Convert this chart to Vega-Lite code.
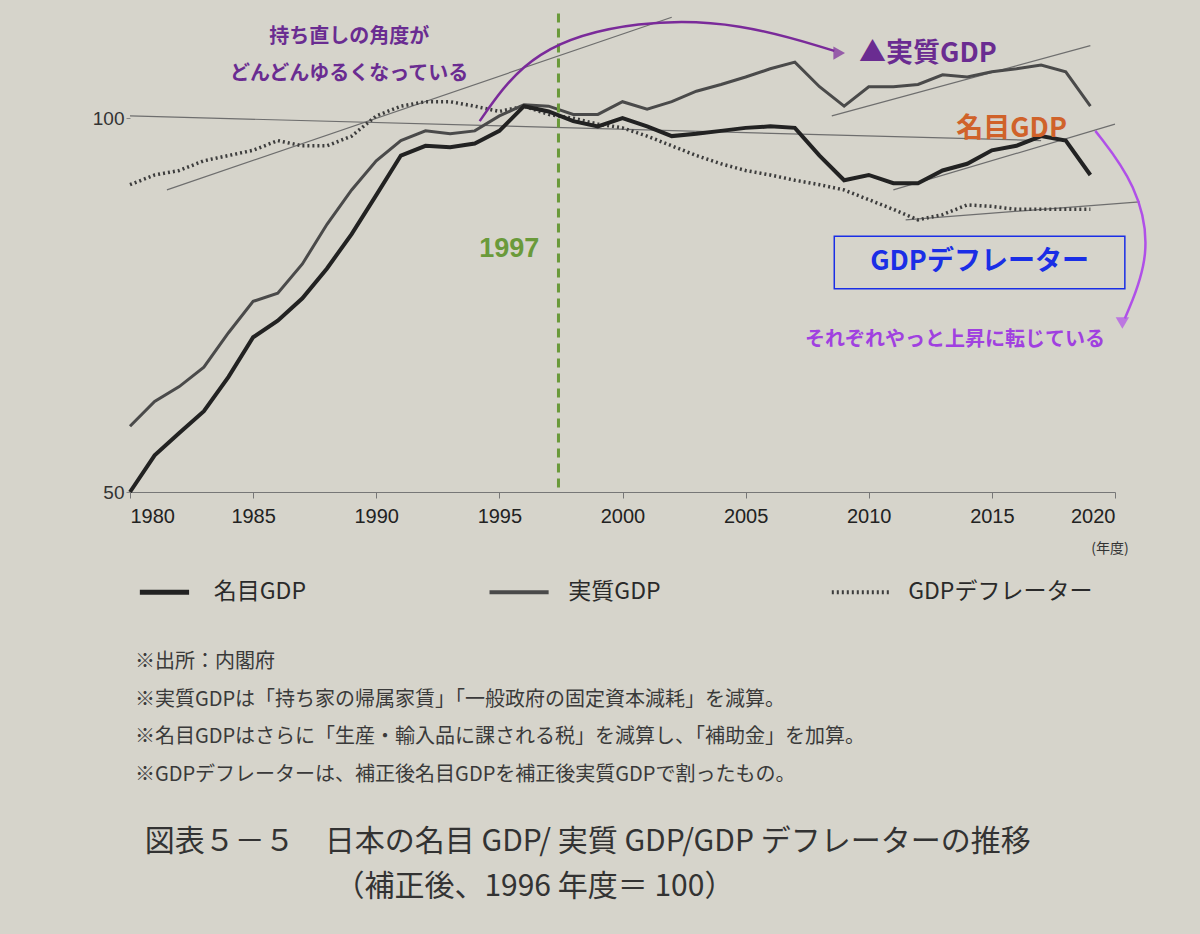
{
  "$schema": "https://vega.github.io/schema/vega-lite/v6.json",
  "width": 985,
  "height": 486,
  "autosize": "none",
  "padding": {"left": 130, "top": 6, "right": 85, "bottom": 442},
  "background": "#d6d4cb",
  "config": {"view": {"stroke": null}, "font": "Noto Sans CJK JP"},
  "datasets": {
    "gdp": [
      {"year":1980,"s":"名目GDP","v":50},{"year":1981,"s":"名目GDP","v":54.9},{"year":1982,"s":"名目GDP","v":57.9},{"year":1983,"s":"名目GDP","v":60.8},{"year":1984,"s":"名目GDP","v":65.4},{"year":1985,"s":"名目GDP","v":70.7},{"year":1986,"s":"名目GDP","v":72.9},{"year":1987,"s":"名目GDP","v":75.9},{"year":1988,"s":"名目GDP","v":79.9},{"year":1989,"s":"名目GDP","v":84.5},{"year":1990,"s":"名目GDP","v":89.7},{"year":1991,"s":"名目GDP","v":95},{"year":1992,"s":"名目GDP","v":96.3},{"year":1993,"s":"名目GDP","v":96.1},{"year":1994,"s":"名目GDP","v":96.6},{"year":1995,"s":"名目GDP","v":98.3},{"year":1996,"s":"名目GDP","v":101.6},{"year":1997,"s":"名目GDP","v":100.9},{"year":1998,"s":"名目GDP","v":99.6},{"year":1999,"s":"名目GDP","v":98.9},{"year":2000,"s":"名目GDP","v":100},{"year":2001,"s":"名目GDP","v":98.9},{"year":2002,"s":"名目GDP","v":97.6},{"year":2003,"s":"名目GDP","v":97.9},{"year":2004,"s":"名目GDP","v":98.3},{"year":2005,"s":"名目GDP","v":98.7},{"year":2006,"s":"名目GDP","v":98.9},{"year":2007,"s":"名目GDP","v":98.7},{"year":2008,"s":"名目GDP","v":95},{"year":2009,"s":"名目GDP","v":91.7},{"year":2010,"s":"名目GDP","v":92.4},{"year":2011,"s":"名目GDP","v":91.3},{"year":2012,"s":"名目GDP","v":91.3},{"year":2013,"s":"名目GDP","v":93},{"year":2014,"s":"名目GDP","v":93.9},{"year":2015,"s":"名目GDP","v":95.7},{"year":2016,"s":"名目GDP","v":96.3},{"year":2017,"s":"名目GDP","v":97.6},{"year":2018,"s":"名目GDP","v":97},{"year":2019,"s":"名目GDP","v":92.4},
      {"year":1980,"s":"実質GDP","v":58.8},{"year":1981,"s":"実質GDP","v":62.1},{"year":1982,"s":"実質GDP","v":64.1},{"year":1983,"s":"実質GDP","v":66.7},{"year":1984,"s":"実質GDP","v":71.3},{"year":1985,"s":"実質GDP","v":75.5},{"year":1986,"s":"実質GDP","v":76.6},{"year":1987,"s":"実質GDP","v":80.5},{"year":1988,"s":"実質GDP","v":85.8},{"year":1989,"s":"実質GDP","v":90.4},{"year":1990,"s":"実質GDP","v":94.3},{"year":1991,"s":"実質GDP","v":97},{"year":1992,"s":"実質GDP","v":98.3},{"year":1993,"s":"実質GDP","v":97.9},{"year":1994,"s":"実質GDP","v":98.3},{"year":1995,"s":"実質GDP","v":100.3},{"year":1996,"s":"実質GDP","v":101.8},{"year":1997,"s":"実質GDP","v":101.6},{"year":1998,"s":"実質GDP","v":100.5},{"year":1999,"s":"実質GDP","v":100.5},{"year":2000,"s":"実質GDP","v":102.2},{"year":2001,"s":"実質GDP","v":101.2},{"year":2002,"s":"実質GDP","v":102.2},{"year":2003,"s":"実質GDP","v":103.6},{"year":2004,"s":"実質GDP","v":104.5},{"year":2005,"s":"実質GDP","v":105.5},{"year":2006,"s":"実質GDP","v":106.6},{"year":2007,"s":"実質GDP","v":107.5},{"year":2008,"s":"実質GDP","v":104.2},{"year":2009,"s":"実質GDP","v":101.6},{"year":2010,"s":"実質GDP","v":104.2},{"year":2011,"s":"実質GDP","v":104.2},{"year":2012,"s":"実質GDP","v":104.5},{"year":2013,"s":"実質GDP","v":105.8},{"year":2014,"s":"実質GDP","v":105.5},{"year":2015,"s":"実質GDP","v":106.2},{"year":2016,"s":"実質GDP","v":106.6},{"year":2017,"s":"実質GDP","v":107.1},{"year":2018,"s":"実質GDP","v":106.2},{"year":2019,"s":"実質GDP","v":101.6},
      {"year":1980,"s":"GDPデフレーター","v":91.1},{"year":1981,"s":"GDPデフレーター","v":92.4},{"year":1982,"s":"GDPデフレーター","v":93},{"year":1983,"s":"GDPデフレーター","v":94.3},{"year":1984,"s":"GDPデフレーター","v":95},{"year":1985,"s":"GDPデフレーター","v":95.7},{"year":1986,"s":"GDPデフレーター","v":97},{"year":1987,"s":"GDPデフレーター","v":96.3},{"year":1988,"s":"GDPデフレーター","v":96.3},{"year":1989,"s":"GDPデフレーター","v":97.6},{"year":1990,"s":"GDPデフレーター","v":100.3},{"year":1991,"s":"GDPデフレーター","v":101.6},{"year":1992,"s":"GDPデフレーター","v":102.2},{"year":1993,"s":"GDPデフレーター","v":102.2},{"year":1994,"s":"GDPデフレーター","v":101.6},{"year":1995,"s":"GDPデフレーター","v":100.9},{"year":1996,"s":"GDPデフレーター","v":101.6},{"year":1997,"s":"GDPデフレーター","v":100.5},{"year":1998,"s":"GDPデフレーター","v":100},{"year":1999,"s":"GDPデフレーター","v":99.2},{"year":2000,"s":"GDPデフレーター","v":98.7},{"year":2001,"s":"GDPデフレーター","v":97.6},{"year":2002,"s":"GDPデフレーター","v":96.3},{"year":2003,"s":"GDPデフレーター","v":95},{"year":2004,"s":"GDPデフレーター","v":93.9},{"year":2005,"s":"GDPデフレーター","v":93},{"year":2006,"s":"GDPデフレーター","v":92.4},{"year":2007,"s":"GDPデフレーター","v":91.7},{"year":2008,"s":"GDPデフレーター","v":91.1},{"year":2009,"s":"GDPデフレーター","v":90.4},{"year":2010,"s":"GDPデフレーター","v":89.1},{"year":2011,"s":"GDPデフレーター","v":87.8},{"year":2012,"s":"GDPデフレーター","v":86.4},{"year":2013,"s":"GDPデフレーター","v":87.1},{"year":2014,"s":"GDPデフレーター","v":88.4},{"year":2015,"s":"GDPデフレーター","v":88.2},{"year":2016,"s":"GDPデフレーター","v":87.8},{"year":2017,"s":"GDPデフレーター","v":87.8},{"year":2018,"s":"GDPデフレーター","v":87.8},{"year":2019,"s":"GDPデフレーター","v":87.8}
    ],
    "trends": [
      {"id":"a","x":1981.5,"y":90.4},{"id":"a","x":2002,"y":113.5},
      {"id":"b","x":2008.5,"y":100.3},{"id":"b","x":2019,"y":109.7},
      {"id":"c","x":2011,"y":90.4},{"id":"c","x":2020,"y":99.2},
      {"id":"d","x":2011.5,"y":86.4},{"id":"d","x":2021,"y":88.8},
      {"id":"e","x":1980,"y":100.3},{"id":"e","x":2017,"y":97}
    ],
    "arrows": [
      {"id":"a","o":1,"x":1994.2,"y":99.6},{"id":"a","o":2,"x":1996.3,"y":109.5},{"id":"a","o":3,"x":2000.7,"y":113.2},{"id":"a","o":4,"x":2004.8,"y":112.8},{"id":"a","o":5,"x":2008.6,"y":109},
      {"id":"b","o":1,"x":2019.2,"y":98.3},{"id":"b","o":2,"x":2020.9,"y":91.1},{"id":"b","o":3,"x":2021.5,"y":81.8},{"id":"b","o":4,"x":2020.4,"y":73.2}
    ],
    "heads": [
      {"x":2008.8,"y":108.7,"shape":"triangle-right"},
      {"x":2020.3,"y":72.6,"shape":"triangle-down"}
    ],
    "notes": [
      {"g":"p","x":1988.9,"y":110.8,"t":"持ち直しの角度が"},
      {"g":"p","x":1988.9,"y":105.9,"t":"どんどんゆるくなっている"},
      {"g":"pb","x":2012.4,"y":108.6,"t":"▲実質GDP"},
      {"g":"o","x":2015.8,"y":98.6,"t":"名目GDP"},
      {"g":"b","x":2014.5,"y":80.8,"t":"GDPデフレーター"},
      {"g":"v","x":2013.5,"y":70.3,"t":"それぞれやっと上昇に転じている"},
      {"g":"g","x":1995.4,"y":82.5,"t":"1997"}
    ],
    "legend": [
      {"s":"名目GDP","x":1980.4,"x2":1982.4,"tx":1983.4},
      {"s":"実質GDP","x":1994.6,"x2":1997,"tx":1997.8},
      {"s":"GDPデフレーター","x":2008.5,"x2":2010.9,"tx":2011.6}
    ],
    "foot": [
      {"x":1980.2,"y":27.2,"t":"※出所：内閣府"},
      {"x":1980.2,"y":22.2,"t":"※実質GDPは「持ち家の帰属家賃」「一般政府の固定資本減耗」を減算。"},
      {"x":1980.2,"y":17.2,"t":"※名目GDPはさらに「生産・輸入品に課される税」を減算し、「補助金」を加算。"},
      {"x":1980.2,"y":12.2,"t":"※GDPデフレーターは、補正後名目GDPを補正後実質GDPで割ったもの。"}
    ],
    "title": [
      {"x":1980.6,"y":3.2,"t":"図表５－５　日本の名目 GDP/ 実質 GDP/GDP デフレーターの推移"},
      {"x":1988.3,"y":-2.8,"t":"（補正後、1996 年度＝ 100）"}
    ]
  },
  "layer": [
    {
      "data": {"name": "trends"},
      "mark": {"type": "line", "color": "#6e6e6e", "strokeWidth": 1.2},
      "encoding": {
        "x": {"field": "x", "type": "quantitative", "scale": {"domain": [1980, 2020]},
          "axis": {"values": [1980,1985,1990,1995,2000,2005,2010,2015,2020], "format": "d", "title": null, "grid": false, "labelFontSize": 20, "labelColor": "#222", "labelPadding": 8, "domainColor": "#777", "tickColor": "#777", "tickSize": 6, "labelFont": "Liberation Sans"}},
        "y": {"field": "y", "type": "quantitative", "scale": {"domain": [50, 114]},
          "axis": {"values": [50, 100], "title": null, "grid": false, "domain": false, "labelFontSize": 19, "labelColor": "#333", "tickColor": "#888", "tickSize": 4, "labelFont": "Liberation Sans"}},
        "detail": {"field": "id"}
      }
    },
    {
      "data": {"name": "gdp"},
      "transform": [{"filter": "datum.s === 'GDPデフレーター'"}],
      "mark": {"type": "line", "color": "#3d3d3d", "strokeWidth": 3.5, "strokeDash": [2, 3]},
      "encoding": {"x": {"field": "year", "type": "quantitative"}, "y": {"field": "v", "type": "quantitative"}}
    },
    {
      "data": {"name": "gdp"},
      "transform": [{"filter": "datum.s === '実質GDP'"}],
      "mark": {"type": "line", "color": "#4a4a4a", "strokeWidth": 3},
      "encoding": {"x": {"field": "year", "type": "quantitative"}, "y": {"field": "v", "type": "quantitative"}}
    },
    {
      "data": {"name": "gdp"},
      "transform": [{"filter": "datum.s === '名目GDP'"}],
      "mark": {"type": "line", "color": "#222222", "strokeWidth": 4},
      "encoding": {"x": {"field": "year", "type": "quantitative"}, "y": {"field": "v", "type": "quantitative"}}
    },
    {
      "data": {"values": [{"x": 1997.4, "y": 114, "y2": 50}]},
      "mark": {"type": "rule", "color": "#6a9a3a", "strokeWidth": 3, "strokeDash": [9, 6]},
      "encoding": {"x": {"field": "x", "type": "quantitative"}, "y": {"field": "y", "type": "quantitative"}, "y2": {"field": "y2"}}
    },
    {
      "data": {"values": [{"x": 2008.6, "x2": 2020.4, "y": 84.2, "y2": 77.2}]},
      "mark": {"type": "rect", "fill": null, "stroke": "#1a2ee6", "strokeWidth": 1.5},
      "encoding": {"x": {"field": "x", "type": "quantitative"}, "x2": {"field": "x2"}, "y": {"field": "y", "type": "quantitative"}, "y2": {"field": "y2"}}
    },
    {
      "data": {"name": "arrows"},
      "transform": [{"filter": "datum.id === 'a'"}],
      "mark": {"type": "line", "color": "#7a2a9a", "strokeWidth": 2.5, "interpolate": "basis", "clip": false},
      "encoding": {"x": {"field": "x", "type": "quantitative"}, "y": {"field": "y", "type": "quantitative"}, "order": {"field": "o"}}
    },
    {
      "data": {"name": "arrows"},
      "transform": [{"filter": "datum.id === 'b'"}],
      "mark": {"type": "line", "color": "#b050e8", "strokeWidth": 2.5, "interpolate": "basis", "clip": false},
      "encoding": {"x": {"field": "x", "type": "quantitative"}, "y": {"field": "y", "type": "quantitative"}, "order": {"field": "o"}}
    },
    {
      "data": {"name": "heads"},
      "mark": {"type": "point", "filled": true, "size": 180, "clip": false},
      "encoding": {"x": {"field": "x", "type": "quantitative"}, "y": {"field": "y", "type": "quantitative"},
        "shape": {"field": "shape", "type": "nominal", "scale": null},
        "color": {"field": "shape", "type": "nominal", "scale": {"domain": ["triangle-right", "triangle-down"], "range": ["#7a2a9a", "#b050e8"]}, "legend": null}}
    },
    {
      "data": {"name": "notes"},
      "transform": [{"filter": "datum.g === 'p'"}],
      "mark": {"type": "text", "color": "#6a2c91", "fontSize": 20, "fontWeight": "bold"},
      "encoding": {"x": {"field": "x", "type": "quantitative"}, "y": {"field": "y", "type": "quantitative"}, "text": {"field": "t"}}
    },
    {
      "data": {"name": "notes"},
      "transform": [{"filter": "datum.g === 'pb'"}],
      "mark": {"type": "text", "color": "#6a2c91", "fontSize": 27, "fontWeight": "bold"},
      "encoding": {"x": {"field": "x", "type": "quantitative"}, "y": {"field": "y", "type": "quantitative"}, "text": {"field": "t"}}
    },
    {
      "data": {"name": "notes"},
      "transform": [{"filter": "datum.g === 'o'"}],
      "mark": {"type": "text", "color": "#d0622a", "fontSize": 27, "fontWeight": "bold"},
      "encoding": {"x": {"field": "x", "type": "quantitative"}, "y": {"field": "y", "type": "quantitative"}, "text": {"field": "t"}}
    },
    {
      "data": {"name": "notes"},
      "transform": [{"filter": "datum.g === 'b'"}],
      "mark": {"type": "text", "color": "#1a2ee6", "fontSize": 27, "fontWeight": "bold"},
      "encoding": {"x": {"field": "x", "type": "quantitative"}, "y": {"field": "y", "type": "quantitative"}, "text": {"field": "t"}}
    },
    {
      "data": {"name": "notes"},
      "transform": [{"filter": "datum.g === 'v'"}],
      "mark": {"type": "text", "color": "#a040e0", "fontSize": 20, "fontWeight": "bold"},
      "encoding": {"x": {"field": "x", "type": "quantitative"}, "y": {"field": "y", "type": "quantitative"}, "text": {"field": "t"}}
    },
    {
      "data": {"name": "notes"},
      "transform": [{"filter": "datum.g === 'g'"}],
      "mark": {"type": "text", "color": "#6a9a3a", "fontSize": 27, "fontWeight": "bold", "font": "Liberation Sans"},
      "encoding": {"x": {"field": "x", "type": "quantitative"}, "y": {"field": "y", "type": "quantitative"}, "text": {"field": "t"}}
    },
    {
      "data": {"values": [{"x": 2019.8, "y": 42.4, "t": "(年度)"}]},
      "mark": {"type": "text", "color": "#333", "fontSize": 14},
      "encoding": {"x": {"field": "x", "type": "quantitative"}, "y": {"field": "y", "type": "quantitative"}, "text": {"field": "t"}}
    },
    {
      "data": {"name": "legend"},
      "transform": [{"filter": "datum.s === '名目GDP'"}],
      "mark": {"type": "rule", "color": "#222", "strokeWidth": 5},
      "encoding": {"x": {"field": "x", "type": "quantitative"}, "x2": {"field": "x2"}, "y": {"datum": 36.6, "type": "quantitative"}}
    },
    {
      "data": {"name": "legend"},
      "transform": [{"filter": "datum.s === '実質GDP'"}],
      "mark": {"type": "rule", "color": "#4a4a4a", "strokeWidth": 4},
      "encoding": {"x": {"field": "x", "type": "quantitative"}, "x2": {"field": "x2"}, "y": {"datum": 36.6, "type": "quantitative"}}
    },
    {
      "data": {"name": "legend"},
      "transform": [{"filter": "datum.s === 'GDPデフレーター'"}],
      "mark": {"type": "rule", "color": "#3d3d3d", "strokeWidth": 4, "strokeDash": [2, 3]},
      "encoding": {"x": {"field": "x", "type": "quantitative"}, "x2": {"field": "x2"}, "y": {"datum": 36.6, "type": "quantitative"}}
    },
    {
      "data": {"name": "legend"},
      "mark": {"type": "text", "align": "left", "color": "#2a2a2a", "fontSize": 23},
      "encoding": {"x": {"field": "tx", "type": "quantitative"}, "y": {"datum": 36.6, "type": "quantitative"}, "text": {"field": "s"}}
    },
    {
      "data": {"name": "foot"},
      "mark": {"type": "text", "align": "left", "color": "#3a3a3a", "fontSize": 20},
      "encoding": {"x": {"field": "x", "type": "quantitative"}, "y": {"field": "y", "type": "quantitative"}, "text": {"field": "t"}}
    },
    {
      "data": {"name": "title"},
      "mark": {"type": "text", "align": "left", "color": "#333", "fontSize": 30},
      "encoding": {"x": {"field": "x", "type": "quantitative"}, "y": {"field": "y", "type": "quantitative"}, "text": {"field": "t"}}
    }
  ]
}
